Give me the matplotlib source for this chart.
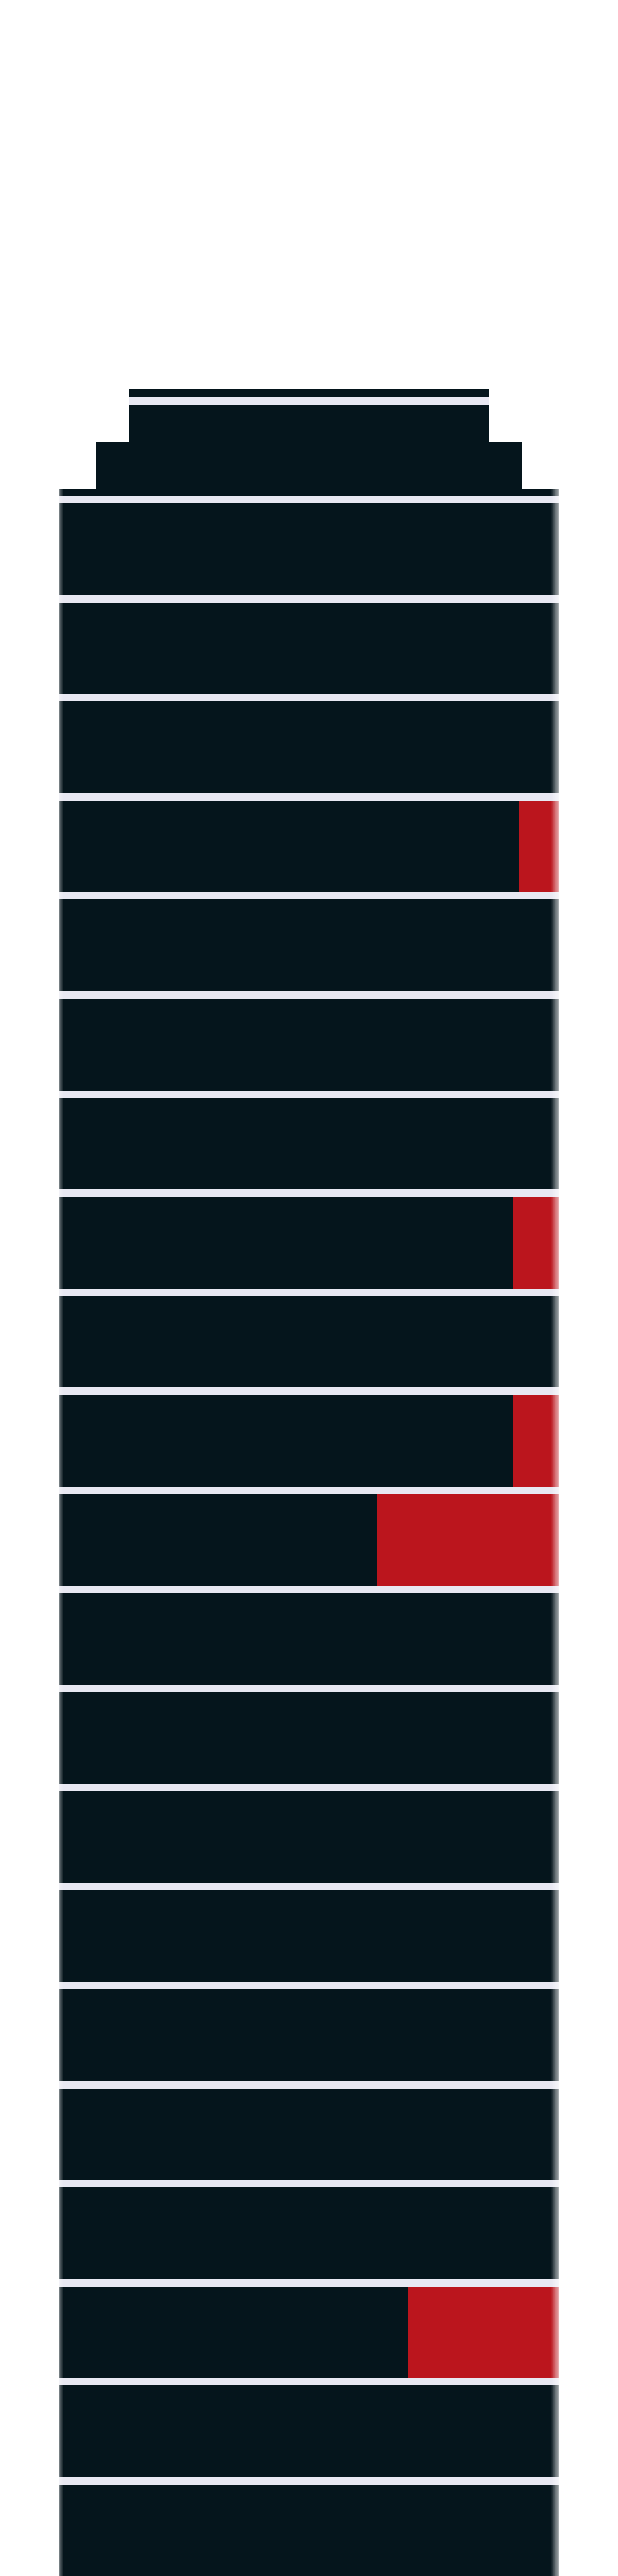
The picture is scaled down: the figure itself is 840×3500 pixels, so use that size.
import numpy as np
import matplotlib.pyplot as plt

# share of each floor drawn in red (floor 0 = first full floor under the roof)
floor_ids = list(range(21))
red_share = [0, 0, 0, 0.079, 0, 0, 0, 0.093, 0, 0.093, 0.365,
             0, 0, 0, 0, 0, 0, 0, 0.303, 0, 0]

# stepped roof: width of each tier (building width = 1) and where it starts
roof_width = [0.718, 0.853, 1.0]
roof_top = [-1.16, -0.62, -0.14]

dark = '#05151c'
red = '#bb151d'
sep = '#e8e8f2'
gap = 0.074  # separator line between floors

W = 680.0  # building width in pixels
fig = plt.figure(figsize=(8.4, 35), dpi=100)
ax = fig.add_axes([0, 0, 1, 1])
xlim = (-80 / W, 1 + 80 / W)
ylim = ((3500 - 684) / 134.6, -684 / 134.6)
ax.axis('off')

# roof
for w, top in zip(roof_width, roof_top):
    ax.barh(top, w, height=-gap - top, left=(1 - w) / 2, align='edge',
            color=dark, linewidth=0)
ax.barh(-1.07, roof_width[0], height=gap, left=(1 - roof_width[0]) / 2,
        align='edge', color=sep, linewidth=0)

# floors
floor_ids = np.array(floor_ids)
red_share = np.array(red_share)
ax.barh(floor_ids - gap, 1, height=gap, align='edge', color=sep, linewidth=0)
ax.barh(floor_ids, 1 - red_share, height=1 - gap, align='edge', color=dark, linewidth=0)
ax.barh(floor_ids, red_share, height=1 - gap, left=1 - red_share, align='edge',
        color=red, linewidth=0)

# soft fade on the building sides
fade = np.ones((1, 32, 4))
fade[0, :, 3] = np.linspace(1, 0, 32)
ax.imshow(fade, extent=(-6 / W, 6 / W, ylim[0], ylim[1]), aspect='auto', zorder=5)
ax.imshow(fade[:, ::-1], extent=(1 - 12 / W, 1 + 6 / W, ylim[0], ylim[1]),
          aspect='auto', zorder=5)
ax.set_xlim(*xlim)
ax.set_ylim(*ylim)

fig.savefig('out.png', dpi=100, facecolor='white')
